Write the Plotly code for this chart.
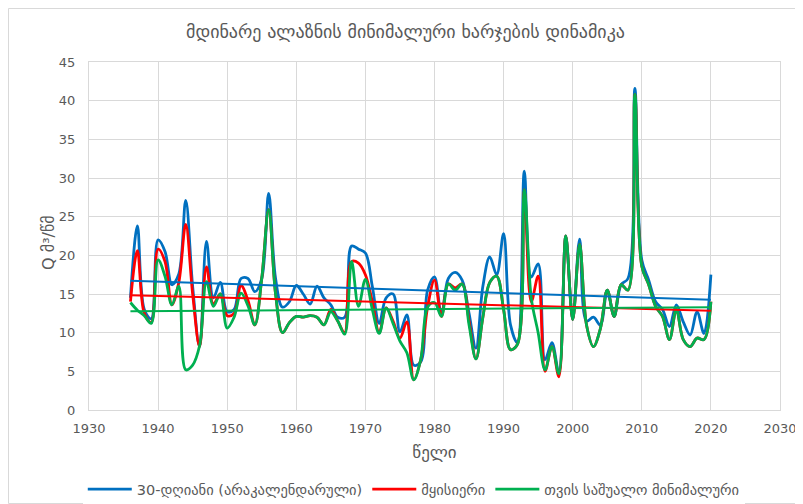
import numpy as np
import plotly.graph_objects as go

years = list(range(1936, 2021))

blue_30day = [14.5, 23.8, 13.0, 11.8, 22.0, 20.5, 16.2, 17.6, 27.1, 16.0,
              8.2, 21.8, 14.5, 16.5, 12.7, 13.0, 17.0, 17.0, 15.3, 17.0,
              28.0, 17.0, 13.3, 14.0, 16.1, 15.0, 13.7, 16.0, 14.5, 13.6,
              12.0, 12.0, 21.2, 20.8, 20.3, 16.0, 11.2, 14.5, 15.0, 10.1,
              12.3, 5.8, 6.2, 15.5, 17.2, 12.3, 17.0, 17.8, 16.8, 12.5,
              8.0, 16.0, 19.8, 17.5, 22.8, 11.0, 8.7, 30.9, 17.2, 18.9,
              6.5, 8.7, 4.8, 22.5, 11.7, 22.1, 11.5, 12.0, 11.0, 15.5,
              12.1, 16.2, 17.0, 41.6, 19.4, 16.8, 14.0, 13.0, 10.8, 13.6,
              11.4, 9.7, 12.7, 9.9, 17.5]

red_summer = [14.0, 20.6, 12.5, 11.3, 20.8, 19.2, 13.6, 16.5, 24.0, 15.0,
              8.2, 18.5, 13.7, 15.0, 12.2, 12.5, 16.1, 14.2, 11.0, 17.0,
              25.9, 15.0, 10.0, 11.3, 12.1, 12.0, 12.2, 12.0, 11.0, 13.0,
              11.5, 10.0, 19.2, 19.0, 17.5, 14.0, 10.0, 13.2, 11.5, 9.3,
              11.4, 3.9, 6.5, 13.3, 16.8, 12.1, 16.3, 15.8, 16.3, 11.5,
              6.6, 12.0, 16.5, 17.3, 13.0, 7.8, 8.5, 28.5, 14.0, 17.3,
              5.0, 8.2, 4.3, 22.5, 11.7, 21.4, 11.0, 8.2, 10.5, 15.5,
              12.1, 16.2, 15.5, 40.8, 18.6, 16.2, 13.4, 12.1, 9.1, 13.0,
              9.1, 8.2, 9.3, 9.1, 14.0]

green_monthly = [13.9, 12.9, 12.2, 11.2, 19.4, 17.3, 13.6, 16.0, 5.2, 5.8,
                 8.3, 16.6, 13.4, 15.0, 10.6, 12.0, 15.1, 13.5, 11.0, 17.0,
                 25.9, 15.0, 10.0, 11.3, 12.1, 12.0, 12.2, 12.0, 11.0, 12.7,
                 11.5, 9.8, 19.2, 13.4, 16.9, 13.0, 9.9, 13.2, 11.2, 8.9,
                 7.4, 3.9, 6.5, 13.3, 13.9, 12.1, 16.3, 15.5, 16.3, 11.0,
                 6.6, 12.0, 16.5, 17.3, 13.0, 7.8, 8.5, 28.5, 14.5, 10.0,
                 5.2, 8.2, 4.7, 22.5, 11.7, 21.4, 11.0, 8.2, 10.5, 15.5,
                 12.1, 16.2, 15.5, 40.8, 18.6, 16.2, 13.4, 12.1, 9.1, 13.0,
                 9.1, 8.2, 9.3, 9.1, 14.0]

series_names = ["30-დღიანი (არაკალენდარული)", "მყისიერი", "თვის საშუალო მინიმალური"]
series_colors = ["#0070C0", "#FF0000", "#00B050"]
series_values = [blue_30day, red_summer, green_monthly]

title_text = "მდინარე ალაზნის მინიმალური ხარჯების დინამიკა"
x_title = "წელი"
y_title = "Q მ³/წმ"

FONT = "DejaVu Sans, Noto Sans, sans-serif"

fig = go.Figure()
for name, color, vals in zip(series_names, series_colors, series_values):
    fig.add_trace(go.Scatter(
        x=years, y=vals, mode="lines", name=name,
        line=dict(color=color, width=2.8, shape="spline", smoothing=1.0),
    ))

yrs = np.array(years, dtype=float)
for name, color, vals in zip(series_names, series_colors, series_values):
    k, b = np.polyfit(yrs, np.array(vals), 1)
    fig.add_trace(go.Scatter(
        x=[yrs[0], yrs[-1]], y=[k * yrs[0] + b, k * yrs[-1] + b],
        mode="lines", showlegend=False, hoverinfo="skip",
        line=dict(color=color, width=2),
    ))

# light chart-area border (Excel style)
fig.add_shape(type="rect", xref="paper", yref="paper",
              x0=-0.1165, x1=1.0318, y0=-0.2687, y1=1.1537,
              line=dict(color="#D9D9D9", width=1), layer="below")

# y-axis title placed as rotated text next to the tick labels
fig.add_annotation(text=y_title, xref="paper", yref="paper",
                   x=-0.058, y=0.48, xanchor="center", yanchor="middle",
                   textangle=-90, showarrow=False,
                   font=dict(size=16, color="#595959", family=FONT))

fig.update_layout(
    width=795, height=496,
    margin=dict(l=81, r=23, t=54, b=94, autoexpand=False),
    paper_bgcolor="white", plot_bgcolor="white",
    font=dict(family=FONT, color="#595959", size=12),
    title=dict(text=title_text, x=0.5, xanchor="center", y=0.952, yanchor="middle",
               font=dict(size=18, color="#595959", family=FONT)),
    showlegend=True,
    legend=dict(orientation="h", x=0.47, xanchor="center",
                yref="container", y=0.03, yanchor="middle",
                font=dict(size=14.5, color="#595959", family=FONT),
                itemwidth=44, tracegroupgap=0),
    xaxis=dict(range=[1930, 2030], dtick=10, tick0=1930, automargin=False,
               showgrid=True, gridcolor="#D9D9D9", gridwidth=1,
               zeroline=False, showline=True, linecolor="#D9D9D9", mirror=True,
               ticks="", ticklabelstandoff=6, tickfont=dict(size=13, color="#595959"),
               title=dict(text=x_title, standoff=11, font=dict(size=17, color="#595959"))),
    yaxis=dict(range=[0, 45], dtick=5, tick0=0, automargin=False,
               showgrid=True, gridcolor="#D9D9D9", gridwidth=1,
               zeroline=False, showline=True, linecolor="#D9D9D9", mirror=True,
               ticks="", ticklabelstandoff=10, tickfont=dict(size=13, color="#595959")),
)

fig.write_html("out.html")
